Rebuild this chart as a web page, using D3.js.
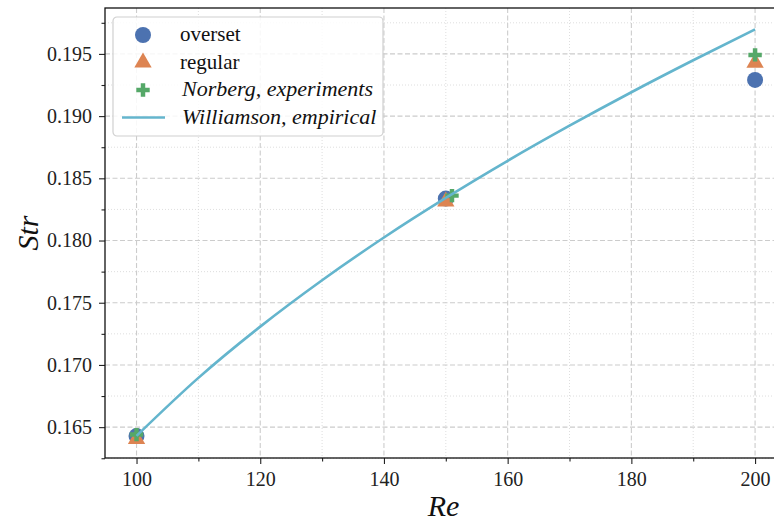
<!DOCTYPE html>
<html>
<head>
<meta charset="utf-8">
<script src="https://cdn.jsdelivr.net/npm/d3@7"></script>
<style>
	body { margin: 0; background: #fff; }
	svg { display: block; font-family: "Liberation Serif", "DejaVu Serif", serif; }
</style>
</head>
<body>
<div id="chart"></div>
<script>
// values
const overset = [[100, 0.16428], [150, 0.18337], [200, 0.19291]];
const regular = [[100, 0.16404], [150, 0.18313], [200, 0.19428]];
const norberg = [[100, 0.16440], [151, 0.18361], [200, 0.19492]];
const williamsonRe = [100, 110, 120, 130, 140, 150, 160, 170, 180, 190, 200];
const williamsonSt = [0.1643, 0.16896, 0.17308, 0.17681, 0.18024, 0.18342, 0.18641, 0.18923, 0.19192, 0.19449, 0.19697];
const xTicks = [100, 120, 140, 160, 180, 200];
const yTicks = [0.165, 0.170, 0.175, 0.180, 0.185, 0.190, 0.195];

const BLUE = '#4C72B0';
const ORANGE = '#DD8452';
const GREEN = '#55A868';
const CYAN = '#64B5CD';

const W = 774, H = 521;
const mLeft = 105, mTop = 8, mBottom = 458;

const x = d3.scaleLinear().domain([95, 205]).range([105.6, 786]);
const y = d3.scaleLinear().domain([0.16252, 0.19869]).range([mBottom, mTop]);

const svg = d3.select('#chart').append('svg')
	.attr('width', W)
	.attr('height', H);

svg.append('defs').append('clipPath').attr('id', 'clip')
	.append('rect')
	.attr('x', mLeft).attr('y', mTop)
	.attr('width', x.range()[1] - mLeft).attr('height', mBottom - mTop);

const grid = svg.append('g');

// minor grid (dotted)
const xMinor = d3.range(110, 205, 20);
const yMinor = d3.range(0.1625, 0.1990, 0.005).map(v => +v.toFixed(4));
grid.selectAll('.xmin').data(xMinor).enter().append('line')
	.attr('x1', d => x(d)).attr('x2', d => x(d))
	.attr('y1', mTop).attr('y2', mBottom)
	.attr('stroke', '#d6d6d6').attr('stroke-width', 0.8).attr('stroke-dasharray', '1,2');
grid.selectAll('.ymin').data(yMinor).enter().append('line')
	.attr('x1', mLeft).attr('x2', W)
	.attr('y1', d => y(d)).attr('y2', d => y(d))
	.attr('stroke', '#d6d6d6').attr('stroke-width', 0.8).attr('stroke-dasharray', '1,2');

// major grid (dashed)
grid.selectAll('.xmaj').data(xTicks).enter().append('line')
	.attr('x1', d => x(d)).attr('x2', d => x(d))
	.attr('y1', mTop).attr('y2', mBottom)
	.attr('stroke', '#cccccc').attr('stroke-width', 1.1).attr('stroke-dasharray', '5,2.5');
grid.selectAll('.ymaj').data(yTicks).enter().append('line')
	.attr('x1', mLeft).attr('x2', W)
	.attr('y1', d => y(d)).attr('y2', d => y(d))
	.attr('stroke', '#cccccc').attr('stroke-width', 1.1).attr('stroke-dasharray', '5,2.5');

const plot = svg.append('g').attr('clip-path', 'url(#clip)');

plot.selectAll('.ov').data(overset).enter().append('circle')
	.attr('cx', d => x(d[0])).attr('cy', d => y(d[1]))
	.attr('r', 8).attr('fill', BLUE);

const tri = d3.symbol().type(d3.symbolTriangle).size(130);
plot.selectAll('.rg').data(regular).enter().append('path')
	.attr('d', tri)
	.attr('transform', d => `translate(${x(d[0])},${y(d[1])})`)
	.attr('fill', ORANGE);

const plus = d3.symbol().type(d3.symbolCross).size(100);
plot.selectAll('.nb').data(norberg).enter().append('path')
	.attr('d', plus)
	.attr('transform', d => `translate(${x(d[0])},${y(d[1])})`)
	.attr('fill', GREEN);

const line = d3.line()
	.x((d, i) => x(williamsonRe[i]))
	.y(d => y(d))
	.curve(d3.curveMonotoneX);
plot.append('path')
	.datum(williamsonSt)
	.attr('d', line)
	.attr('fill', 'none')
	.attr('stroke', CYAN)
	.attr('stroke-width', 2.6);

// axes
const xAxis = d3.axisBottom(x).tickValues(xTicks).tickSize(6).tickPadding(8).tickFormat(d3.format('d'));
const xMinAxis = d3.axisBottom(x).tickValues(xMinor).tickSize(3.5).tickFormat('');
const yAxis = d3.axisLeft(y).tickValues(yTicks).tickSize(6).tickPadding(7).tickFormat(d3.format('.3f'));
const yMinAxis = d3.axisLeft(y).tickValues(yMinor).tickSize(3.5).tickFormat('');

function styleAxis(g) {
	g.select('.domain').remove();
	g.selectAll('line').attr('stroke', '#222').attr('stroke-width', 1.1);
	g.selectAll('text').attr('font-size', 20).attr('fill', '#222')
		.attr('font-family', '"Liberation Serif", serif');
}

svg.append('g').attr('transform', `translate(0,${mBottom})`).call(xAxis).call(styleAxis);
svg.append('g').attr('transform', `translate(0,${mBottom})`).call(xMinAxis).call(styleAxis);
svg.append('g').attr('transform', `translate(${mLeft},0)`).call(yAxis).call(styleAxis);
svg.append('g').attr('transform', `translate(${mLeft},0)`).call(yMinAxis).call(styleAxis);

// spines
svg.append('rect')
	.attr('x', mLeft).attr('y', mTop)
	.attr('width', x.range()[1] - mLeft).attr('height', mBottom - mTop)
	.attr('fill', 'none').attr('stroke', '#111').attr('stroke-width', 1.3);

// axis labels
svg.append('text')
	.attr('x', (mLeft + x(205)) / 2 - 2).attr('y', 516)
	.attr('text-anchor', 'middle')
	.attr('font-size', 30).attr('font-style', 'italic')
	.attr('fill', '#111')
	.text('Re');

svg.append('text')
	.attr('transform', `translate(38,${(mTop + mBottom) / 2}) rotate(-90)`)
	.attr('text-anchor', 'middle')
	.attr('font-size', 30).attr('font-style', 'italic')
	.attr('fill', '#111')
	.text('Str');

// legend
const legend = svg.append('g').attr('transform', 'translate(113,17)');
legend.append('rect')
	.attr('width', 270).attr('height', 119)
	.attr('rx', 4).attr('ry', 4)
	.attr('fill', 'rgba(255,255,255,0.85)')
	.attr('stroke', '#d0d0d0').attr('stroke-width', 1.2);

const entries = [
	{ label: 'overset', kind: 'circle', color: BLUE, italic: false },
	{ label: 'regular', kind: 'tri', color: ORANGE, italic: false },
	{ label: 'Norberg, experiments', kind: 'plus', color: GREEN, italic: true },
	{ label: 'Williamson, empirical', kind: 'line', color: CYAN, italic: true }
];

entries.forEach((e, i) => {
	const cy = 18 + i * 27.5;
	if (e.kind === 'circle') {
		legend.append('circle').attr('cx', 30).attr('cy', cy).attr('r', 8).attr('fill', e.color);
	} else if (e.kind === 'tri') {
		legend.append('path').attr('d', tri).attr('transform', `translate(30,${cy})`).attr('fill', e.color);
	} else if (e.kind === 'plus') {
		legend.append('path').attr('d', plus).attr('transform', `translate(30,${cy})`).attr('fill', e.color);
	} else {
		legend.append('line').attr('x1', 9).attr('x2', 52).attr('y1', cy).attr('y2', cy)
			.attr('stroke', e.color).attr('stroke-width', 2.6);
	}
	legend.append('text')
		.attr('x', e.italic ? 69 : 67).attr('y', cy + 6)
		.attr('font-size', e.italic ? 22 : 21)
		.attr('font-style', e.italic ? 'italic' : 'normal')
		.attr('fill', '#111')
		.text(e.label);
});
</script>
</body>
</html>
